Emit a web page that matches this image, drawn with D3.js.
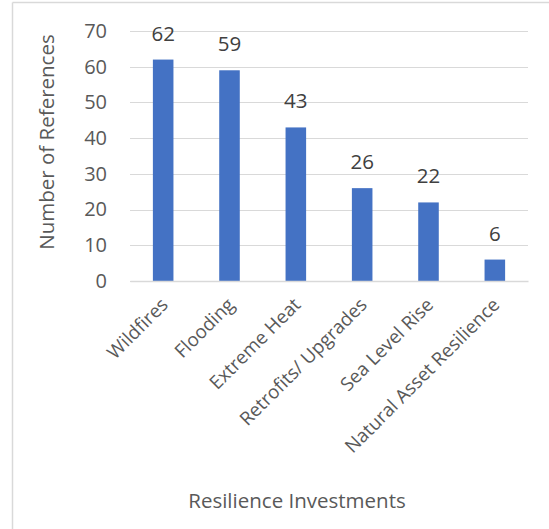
<!DOCTYPE html>
<html>
<head>
<meta charset="utf-8">
<script src="https://cdn.jsdelivr.net/npm/d3@7"></script>
<style>
  html, body { margin: 0; padding: 0; background: #fff; }
  svg { display: block; font-family: "Open Sans", "Liberation Sans", sans-serif; }
</style>
</head>
<body>
<svg id="chart" width="549" height="529"></svg>
<script>
const categories = ["Wildfires", "Flooding", "Extreme Heat", "Retrofits/ Upgrades", "Sea Level Rise", "Natural Asset Resilience"];
const values = [62, 59, 43, 26, 22, 6];
const yTicks = [0, 10, 20, 30, 40, 50, 60, 70];

const svg = d3.select("#chart");
const textColor = "#595959";
const margin = { left: 130, right: 21, top: 31, bottom: 248 };
const W = 549, H = 529;

// chart frame (only top and left edges fall inside the canvas)
svg.append("line").attr("x1", 12.5).attr("x2", W).attr("y1", 2.5).attr("y2", 2.5)
  .attr("stroke", "#d9d9d9").attr("stroke-width", 1.5);
svg.append("line").attr("x1", 12.5).attr("x2", 12.5).attr("y1", 2.5).attr("y2", H)
  .attr("stroke", "#d9d9d9").attr("stroke-width", 1.5);

const x = d3.scaleBand().domain(categories)
  .range([margin.left, W - margin.right]).paddingInner(0.69).paddingOuter(0.345);
const y = d3.scaleLinear().domain([0, 70]).range([H - margin.bottom, margin.top]);

// horizontal gridlines
svg.append("g").selectAll("line").data(yTicks).join("line")
  .attr("x1", margin.left).attr("x2", W - margin.right)
  .attr("y1", d => Math.round(y(d)) + 0.5).attr("y2", d => Math.round(y(d)) + 0.5)
  .attr("stroke", "#d9d9d9").attr("stroke-width", 1);

// y axis labels
const yAxis = d3.axisLeft(y).tickValues(yTicks).tickSize(0).tickPadding(23);
const gy = svg.append("g").attr("transform", `translate(${margin.left},0)`).call(yAxis);
gy.select(".domain").remove();
gy.selectAll("text").attr("fill", textColor).style("font-size", "20px")
  .style("font-family", "'Open Sans', sans-serif");

// bars
svg.append("g").selectAll("rect").data(values).join("rect")
  .attr("x", (d, i) => x(categories[i]))
  .attr("y", d => y(d))
  .attr("width", x.bandwidth())
  .attr("height", d => y(0) - y(d))
  .attr("fill", "#4472c4");

// value labels
svg.append("g").selectAll("text").data(values).join("text")
  .attr("x", (d, i) => x(categories[i]) + x.bandwidth() / 2)
  .attr("y", d => y(d) - 19)
  .attr("text-anchor", "middle")
  .attr("fill", "#404040")
  .style("font-size", "20.5px")
  .text(d => d);

// x axis
const xAxis = d3.axisBottom(x).tickSize(0).tickPadding(0);
const gx = svg.append("g").attr("transform", `translate(0,${y(0)})`).call(xAxis);
gx.select(".domain").attr("stroke", "#d9d9d9").attr("stroke-width", 1.5);
gx.selectAll(".tick text")
  .attr("fill", textColor)
  .style("font-size", "18.8px")
  .style("font-family", "'Open Sans', sans-serif")
  .attr("text-anchor", "end")
  .attr("dy", null)
  .attr("y", 0)
  .attr("transform", "translate(6,25) rotate(-45)");

// axis titles
svg.append("text")
  .attr("transform", `translate(54,142) rotate(-90)`)
  .attr("text-anchor", "middle")
  .attr("fill", textColor)
  .style("font-size", "20.5px")
  .text("Number of References");

svg.append("text")
  .attr("x", 297).attr("y", 508)
  .attr("text-anchor", "middle")
  .attr("fill", textColor)
  .style("font-size", "20.5px")
  .text("Resilience Investments");
</script>
</body>
</html>
